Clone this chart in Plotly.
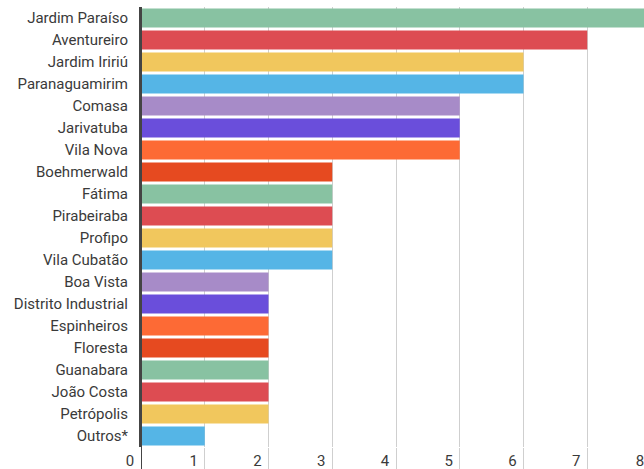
import plotly.graph_objects as go

bairros = ["Jardim Paraíso", "Aventureiro", "Jardim Iririú", "Paranaguamirim", "Comasa",
           "Jarivatuba", "Vila Nova", "Boehmerwald", "Fátima", "Pirabeiraba", "Profipo",
           "Vila Cubatão", "Boa Vista", "Distrito Industrial", "Espinheiros", "Floresta",
           "Guanabara", "João Costa", "Petrópolis", "Outros*"]
casos = [8, 7, 6, 6, 5, 5, 5, 3, 3, 3, 3, 3, 2, 2, 2, 2, 2, 2, 2, 1]
paleta = ["#88c2a2", "#dd4c52", "#f1c75d", "#55b5e6", "#a78bc8", "#6a4edb", "#fd6a35", "#e64a20"]
cores = [paleta[i % len(paleta)] for i in range(len(bairros))]
x_ticks = [0, 1, 2, 3, 4, 5, 6, 7, 8]

fig = go.Figure(go.Bar(
    x=casos, y=bairros, orientation="h",
    marker=dict(color=cores, line=dict(width=0)),
    hoverinfo="x+y",
))

# the reference chart is cropped at its right edge: the plot runs slightly past the window
fig.update_layout(
    width=651, height=469,
    margin=dict(l=141, r=0, t=7, b=22),
    paper_bgcolor="white", plot_bgcolor="white",
    bargap=0.13,
    showlegend=False,
    font=dict(family="Roboto", size=15, color="#3a3a3a"),
)
fig.update_xaxes(
    range=[0, 8], tickvals=x_ticks, ticktext=[str(v) for v in x_ticks],
    showgrid=True, gridcolor="#cfcfcf", gridwidth=1,
    ticks="outside", ticklen=22, tickcolor="#cfcfcf", tickwidth=1,
    ticklabelshift=-11, ticklabelstandoff=-22,
    zeroline=False, showline=False, automargin=False,
    tickfont=dict(family="Roboto", size=15, color="#3a3a3a"),
)
fig.update_yaxes(
    autorange="reversed", showgrid=False,
    showline=True, linecolor="#444444", linewidth=2,
    ticks="", ticklabelstandoff=8, automargin=False,
    tickfont=dict(family="Roboto", size=15, color="#3a3a3a"),
)
fig.add_shape(type="line", xref="x", yref="paper", x0=0, x1=0, y0=-0.06, y1=1,
              line=dict(color="#444444", width=2), layer="above")

post = ("document.body.style.margin='0';"
        "document.body.style.overflow='hidden';"
        "document.documentElement.style.overflow='hidden';")
fig.write_html("out.html", post_script=post, config={"displayModeBar": False})
